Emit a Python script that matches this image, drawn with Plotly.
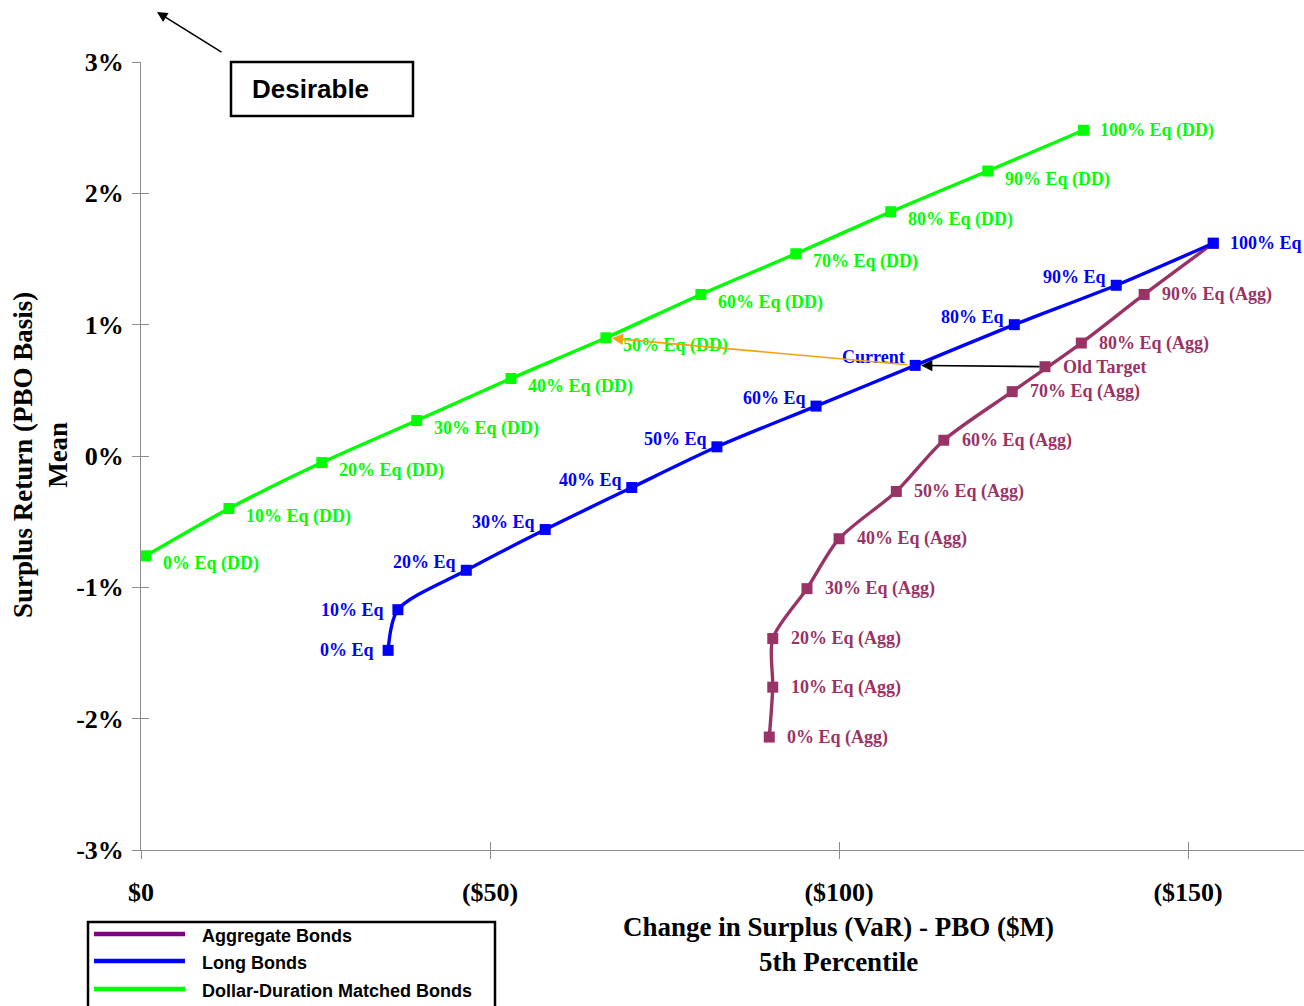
import plotly.graph_objects as go

# Equity allocation steps shared by all three frontiers
equity_pct = [0, 10, 20, 30, 40, 50, 60, 70, 80, 90, 100]

# Dollar-duration matched bonds: VaR loss ($M, 5th pct) and mean surplus return (%)
dd_var = [0.7, 12.6, 25.9, 39.5, 53.0, 66.6, 80.2, 93.8, 107.4, 121.3, 135.0]
dd_ret = [-0.76, -0.40, -0.05, 0.27, 0.59, 0.90, 1.23, 1.54, 1.86, 2.17, 2.48]

# Long bonds
long_var = [35.4, 36.8, 46.6, 57.9, 70.3, 82.5, 96.7, 110.9, 125.1, 139.7, 153.6]
long_ret = [-1.48, -1.17, -0.87, -0.56, -0.24, 0.07, 0.38, 0.69, 1.00, 1.30, 1.62]

# Aggregate bonds
agg_var = [90.0, 90.5, 90.5, 95.4, 100.0, 108.2, 115.0, 124.8, 134.7, 143.7, 153.6]
agg_ret = [-2.14, -1.76, -1.39, -1.01, -0.63, -0.27, 0.12, 0.49, 0.86, 1.23, 1.62]

# Old target policy
old_target_var = [129.5]
old_target_ret = [0.68]

# Axis ticks
x_tickvals = [0, 50, 100, 150]
x_ticktext = ["$0", "($50)", "($100)", "($150)"]
y_tickvals = [-3, -2, -1, 0, 1, 2, 3]
y_ticktext = ["-3%", "-2%", "-1%", "0%", "1%", "2%", "3%"]

series_names = ["Aggregate Bonds", "Long Bonds", "Dollar-Duration Matched Bonds"]

AGG = "#993366"
AGG_LEGEND = "#800080"
LONG = "#0000FF"
DD = "#00FF00"
ORANGE = "#F2A30F"
SERIF = "Liberation Serif"
SANS = "Liberation Sans"

W, H = 1304, 1006
L, R, T, B = 141, 0, 62, 156
PW, PH = W - L - R, H - T - B
X_MAX = 166.6


def px(xp):
    return (xp - L) / PW


def py(yp):
    return (H - B - yp) / PH


fig = go.Figure()


def add_series(xs, ys, color):
    fig.add_trace(go.Scatter(
        x=xs, y=ys, mode="lines+markers",
        line=dict(color=color, width=3.4, shape="spline", smoothing=0.8),
        marker=dict(symbol="square", size=11, color=color),
        showlegend=False, hoverinfo="skip", cliponaxis=False,
    ))


add_series(agg_var, agg_ret, AGG)
add_series(long_var, long_ret, LONG)
add_series(dd_var, dd_ret, DD)
fig.add_trace(go.Scatter(
    x=old_target_var, y=old_target_ret, mode="markers",
    marker=dict(symbol="square", size=11, color=AGG),
    showlegend=False, hoverinfo="skip",
))

# dummy overlay trace so the secondary axes (inside tick marks) are drawn
fig.add_trace(go.Scatter(x=[None], y=[None], xaxis="x2", yaxis="y2",
                         showlegend=False, hoverinfo="skip"))

ann = []


def label(x, y, text, color, anchor, xs, ys):
    ann.append(dict(x=x, y=y, xref="x", yref="y", text=text, showarrow=False,
                    xanchor=anchor, yanchor="middle", xshift=xs, yshift=ys,
                    font=dict(family=SERIF, size=18, color=color, weight="bold")))


n = len(equity_pct)
for i, eq in enumerate(equity_pct):
    # DD labels: right of and below the marker
    label(dd_var[i], dd_ret[i], f"{eq}% Eq (DD)", DD, "left", 15,
          0 if i == n - 1 else -8)
    # Long bond labels: left of and above the marker
    txt = "Current" if eq == 70 else f"{eq}% Eq"
    if i == n - 1:
        label(long_var[i], long_ret[i], txt, LONG, "left", 15, 0)
    elif i < 2:
        label(long_var[i], long_ret[i], txt, LONG, "right", -12, 0)
    else:
        label(long_var[i], long_ret[i], txt, LONG, "right", -8, 8)
    # Aggregate labels: right of the marker (100% shares the long-bond point)
    if i < n - 1:
        label(agg_var[i], agg_ret[i], f"{eq}% Eq (Agg)", AGG, "left", 16, 0)

label(old_target_var[0], old_target_ret[0], "Old Target", AGG, "left", 16, 0)

cur_i = equity_pct.index(70)
dd50_i = equity_pct.index(50)

# Old target -> current
ann.append(dict(x=long_var[cur_i], y=long_ret[cur_i], xref="x", yref="y",
                ax=old_target_var[0], ay=old_target_ret[0], axref="x", ayref="y",
                text="", showarrow=True, arrowhead=2, arrowsize=1.4,
                arrowwidth=1.6, arrowcolor="black", standoff=6, startstandoff=4))
# Current -> 50% equity dollar-duration matched
ann.append(dict(x=dd_var[dd50_i], y=dd_ret[dd50_i], xref="x", yref="y",
                ax=long_var[cur_i], ay=long_ret[cur_i], axref="x", ayref="y",
                text="", showarrow=True, arrowhead=2, arrowsize=1.4,
                arrowwidth=1.6, arrowcolor=ORANGE, standoff=6, startstandoff=6))

# "Desirable" direction arrow and box
ann.append(dict(x=px(157), y=py(12), xref="paper", yref="paper",
                ax=66, ay=41, text="", showarrow=True, arrowhead=2,
                arrowsize=1.3, arrowwidth=1.6, arrowcolor="black"))
ann.append(dict(x=px(250), y=py(89), xref="paper", yref="paper",
                text="Desirable", showarrow=False, xanchor="left", yanchor="middle",
                font=dict(family=SANS, size=26, color="black", weight="bold")))

# Axis titles
ann.append(dict(x=px(40), y=py(455), xref="paper", yref="paper",
                text="Surplus Return (PBO Basis)<br>Mean", textangle=-90,
                showarrow=False, xanchor="center", yanchor="middle",
                font=dict(family=SERIF, size=27, color="black", weight="bold")))
ann.append(dict(x=px(838), y=py(944), xref="paper", yref="paper",
                text="Change in Surplus (VaR) - PBO ($M)<br>5th Percentile",
                showarrow=False, xanchor="center", yanchor="middle",
                font=dict(family=SERIF, size=27, color="black", weight="bold")))

shapes = [
    dict(type="rect", xref="paper", yref="paper",
         x0=px(231), x1=px(413), y0=py(116), y1=py(62),
         line=dict(color="black", width=2.5), fillcolor="white", layer="below"),
    dict(type="rect", xref="paper", yref="paper",
         x0=px(88), x1=px(495), y0=py(1012), y1=py(922),
         line=dict(color="black", width=2.5), fillcolor="white"),
]

# Legend entries
legend_colors = [AGG_LEGEND, LONG, DD]
legend_rows = [934, 961, 989]
for name, col, yr in zip(series_names, legend_colors, legend_rows):
    shapes.append(dict(type="line", xref="paper", yref="paper",
                       x0=px(94), x1=px(185), y0=py(yr), y1=py(yr),
                       line=dict(color=col, width=4.5)))
    ann.append(dict(x=px(200), y=py(yr + 2), xref="paper", yref="paper",
                    text=name, showarrow=False, xanchor="left", yanchor="middle",
                    font=dict(family=SANS, size=18, color="black", weight="bold")))

tick_font = dict(family=SERIF, size=26, color="black", weight="bold")
AXIS_GRAY = "#8C8C8C"

fig.update_layout(
    width=W, height=H,
    margin=dict(l=L, r=R, t=T, b=B, pad=0),
    paper_bgcolor="white", plot_bgcolor="white",
    showlegend=False,
    xaxis=dict(range=[0, X_MAX], tickvals=x_tickvals, ticktext=x_ticktext,
               showgrid=False, zeroline=False, showline=True,
               linecolor=AXIS_GRAY, linewidth=1, ticks="outside", ticklen=8,
               tickcolor=AXIS_GRAY, tickfont=tick_font, ticklabelstandoff=11),
    yaxis=dict(range=[-3, 3], tickvals=y_tickvals, ticktext=y_ticktext,
               showgrid=False, zeroline=False, showline=True,
               linecolor=AXIS_GRAY, linewidth=1, ticks="outside", ticklen=8,
               tickcolor=AXIS_GRAY, tickfont=tick_font, ticklabelstandoff=3),
    xaxis2=dict(range=[0, X_MAX], overlaying="x", tickvals=x_tickvals,
                showticklabels=False, showgrid=False, zeroline=False,
                ticks="inside", ticklen=8, tickcolor=AXIS_GRAY, side="bottom"),
    yaxis2=dict(range=[-3, 3], overlaying="y", tickvals=y_tickvals,
                showticklabels=False, showgrid=False, zeroline=False,
                ticks="inside", ticklen=8, tickcolor=AXIS_GRAY, side="left"),
    annotations=ann,
    shapes=shapes,
)

fig.write_html("out.html")
